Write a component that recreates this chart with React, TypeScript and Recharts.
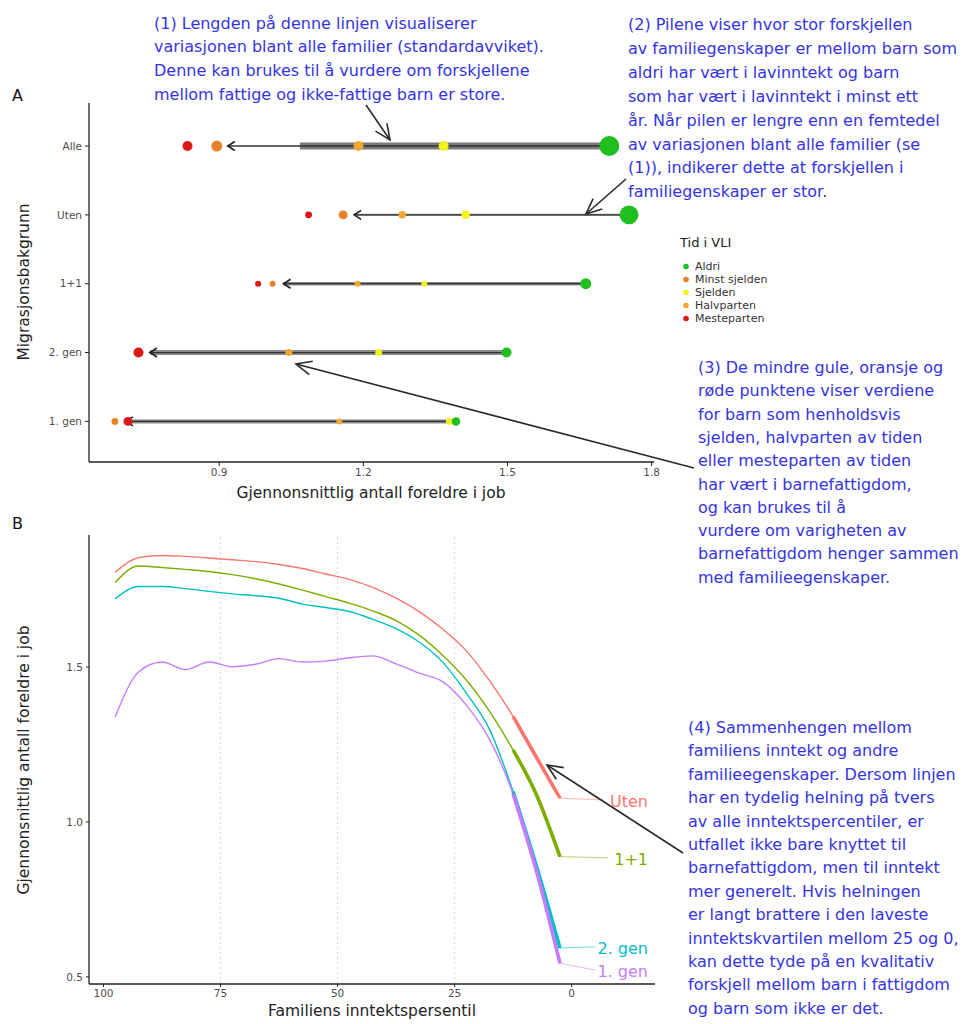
import React from "react";
import {
  ComposedChart, Scatter, Line, XAxis, YAxis, ReferenceLine, Legend,
} from "recharts";

// ---------- Panel A: foreldre i jobb etter migrasjonsbakgrunn og tid i VLI ----------
const grupper = ["Alle", "Uten", "1+1", "2. gen", "1. gen"];
const radNr = [5, 4, 3, 2, 1];
const tidIVli = ["Aldri", "Minst sjelden", "Sjelden", "Halvparten", "Mesteparten"];

const aldri = [1.712, 1.753, 1.663, 1.498, 1.393];
const minstSjelden = [0.895, 1.158, 1.011, 0.733, 0.683];
const sjelden = [1.367, 1.413, 1.327, 1.232, 1.379];
const halvparten = [1.19, 1.281, 1.188, 1.045, 1.15];
const mesteparten = [0.834, 1.086, 0.981, 0.732, 0.71];

// relativ gruppestørrelse (styrer punktarealet)
const nAldri = [100, 90, 30, 25, 18];
const nMinstSjelden = [30, 20, 9, 16, 12];
const nSjelden = [25, 18, 9, 12, 12];
const nHalvparten = [25, 14, 9, 12, 9];
const nMesteparten = [25, 12, 9, 25, 20];

// standardavvik blant alle familier
const standardavvik = 0.644;

// ---------- Panel B: foreldre i jobb etter inntektspersentil ----------
const persentil = [97.5, 92.5, 87.5, 82.5, 77.5, 72.5, 67.5, 62.5, 57.5, 52.5, 47.5, 42.5, 37.5, 32.5, 27.5, 22.5, 17.5, 12.5, 7.5, 2.5];
const uten = [1.806, 1.853, 1.86, 1.857, 1.852, 1.846, 1.84, 1.831, 1.818, 1.8, 1.783, 1.757, 1.722, 1.678, 1.622, 1.552, 1.455, 1.34, 1.208, 1.077];
const enPlussEn = [1.773, 1.826, 1.821, 1.815, 1.808, 1.798, 1.785, 1.768, 1.748, 1.727, 1.706, 1.681, 1.65, 1.602, 1.537, 1.458, 1.356, 1.232, 1.087, 0.888];
const andreGen = [1.72, 1.76, 1.76, 1.753, 1.744, 1.736, 1.73, 1.722, 1.703, 1.692, 1.679, 1.654, 1.624, 1.58, 1.515, 1.416, 1.297, 1.098, 0.856, 0.593];
const forsteGen = [1.339, 1.484, 1.516, 1.492, 1.516, 1.501, 1.509, 1.527, 1.516, 1.519, 1.53, 1.536, 1.51, 1.48, 1.452, 1.377, 1.265, 1.09, 0.84, 0.544];
const linjeNavn = ["Uten", "1+1", "2. gen", "1. gen"];
const etikettVerdi = [1.068, 0.881, 0.594, 0.519];
const nedreKvartil = 12.5; // tykk linje fra denne persentilen og ned
const rutenett = [75, 50, 25];

// ---------- stil ----------
const FONT = '"DejaVu Sans", Verdana, sans-serif';
const tidFarger = ["#1fbf1f", "#e8822a", "#f2f21c", "#f3a733", "#dc1717"];
const tegneRekkefolge = [2, 3, 0, 1, 4]; // rødt og grønt øverst
const linjeFarger = ["#F8766D", "#7CAE00", "#00BFC4", "#C77CFF"];
const pilBredde = [0, 2, 3.5, 5, 4];
const lederSlutt = [-6.9, -7.8, -5, -5];
const etikettX = -16.3;
const BLA = "#3434e2";
const AKSE = "#222";
const tick = { fontSize: 10.5, fill: "#4d4d4d", fontFamily: FONT };

const tidVerdier = [aldri, minstSjelden, sjelden, halvparten, mesteparten];
const tidN = [nAldri, nMinstSjelden, nSjelden, nHalvparten, nMesteparten];

const tekst1 = [
  "(1) Lengden på denne linjen visualiserer",
  "variasjonen blant alle familier (standardavviket).",
  "Denne kan brukes til å vurdere om forskjellene",
  "mellom fattige og ikke-fattige barn er store.",
];
const tekst2 = [
  "(2) Pilene viser hvor stor forskjellen",
  "av familiegenskaper er mellom barn som",
  "aldri har vært i lavinntekt og barn",
  "som har vært i lavinntekt i minst ett",
  "år. Når pilen er lengre enn en femtedel",
  "av variasjonen blant alle familier (se",
  "(1)), indikerer dette at forskjellen i",
  "familiegenskaper er stor.",
];
const tekst3 = [
  "(3) De mindre gule, oransje og",
  "røde punktene viser verdiene",
  "for barn som henholdsvis",
  "sjelden, halvparten av tiden",
  "eller mesteparten av tiden",
  "har vært i barnefattigdom,",
  "og kan brukes til å",
  "vurdere om varigheten av",
  "barnefattigdom henger sammen",
  "med familieegenskaper.",
];
const tekst4 = [
  "(4) Sammenhengen mellom",
  "familiens inntekt og andre",
  "familieegenskaper. Dersom linjen",
  "har en tydelig helning på tvers",
  "av alle inntektspercentiler, er",
  "utfallet ikke bare knyttet til",
  "barnefattigdom, men til inntekt",
  "mer generelt. Hvis helningen",
  "er langt brattere i den laveste",
  "inntektskvartilen mellom 25 og 0,",
  "kan dette tyde på en kvalitativ",
  "forskjell mellom barn i fattigdom",
  "og barn som ikke er det.",
];

function pilForm(bredde: number) {
  return (props: any) => {
    const { x1, y1, x2, y2 } = props;
    const dir = Math.sign(x2 - x1) || -1;
    const tip = x2 - dir * 11;
    return (
      <g>
        {bredde > 0 && (
          <line x1={x1 + 2} y1={y1} x2={tip} y2={y2} stroke="#8a8a8a" strokeWidth={bredde} />
        )}
        <line x1={x1} y1={y1} x2={tip} y2={y2} stroke="#333" strokeWidth={1.3} />
        <polyline
          points={`${tip - dir * 7},${y2 - 4.5} ${tip},${y2} ${tip - dir * 7},${y2 + 4.5}`}
          fill="none" stroke="#222" strokeWidth={1.7}
        />
      </g>
    );
  };
}

function sdForm(props: any) {
  const { x1, y1, x2, y2 } = props;
  return <line x1={x1} y1={y1} x2={x2} y2={y2} stroke="#7a7a7a" strokeWidth={7} />;
}

function Pil({ fra, til }: { fra: number[]; til: number[] }) {
  const [x1, y1] = fra;
  const [x2, y2] = til;
  const a = Math.atan2(y2 - y1, x2 - x1);
  const L = 17;
  const s = 0.42;
  const p1 = [x2 - L * Math.cos(a - s), y2 - L * Math.sin(a - s)];
  const p2 = [x2 - L * Math.cos(a + s), y2 - L * Math.sin(a + s)];
  return (
    <g stroke="#2a2a2a" strokeWidth={1.6} fill="none">
      <line x1={x1} y1={y1} x2={x2} y2={y2} />
      <polyline points={`${p1[0]},${p1[1]} ${x2},${y2} ${p2[0]},${p2[1]}`} />
    </g>
  );
}

function Avsnitt({ linjer, x, y, dy }: { linjer: string[]; x: number; y: number; dy: number }) {
  return (
    <text fontFamily={FONT} fontSize={16} fill={BLA}>
      {linjer.map((l, i) => (
        <tspan key={i} x={x} y={y + i * dy}>{l}</tspan>
      ))}
    </text>
  );
}

function TidLegend({ payload }: any) {
  const items = [...(payload || [])].sort(
    (a: any, b: any) => tidIVli.indexOf(a.value) - tidIVli.indexOf(b.value)
  );
  return (
    <div style={{ fontFamily: FONT, color: "#222" }}>
      <div style={{ fontSize: 13, marginBottom: 10 }}>Tid i VLI</div>
      {items.map((it: any) => (
        <div key={it.value} style={{ display: "flex", alignItems: "center", height: 13, fontSize: 11, color: "#333" }}>
          <svg width={12} height={13}>
            <circle cx={6} cy={6.5} r={2.8} fill={it.color} />
          </svg>
          <span style={{ marginLeft: 3 }}>{it.value}</span>
        </div>
      ))}
    </div>
  );
}

export default function App() {
  const linjer = [uten, enPlussEn, andreGen, forsteGen].map((verdier) =>
    persentil.map((p, i) => ({ p, v: verdier[i] }))
  );

  return (
    <div style={{ position: "absolute", left: 0, top: 0, width: 971, height: 1024, background: "#fff", overflow: "hidden" }}>
      {/* Panel A */}
      <div style={{ position: "absolute", left: 0, top: 0 }}>
        <ComposedChart width={760} height={510} margin={{ top: 103, right: 106, bottom: 18, left: 29 }}>
          <XAxis
            type="number" dataKey="x" domain={[0.629, 1.805]} ticks={[0.9, 1.2, 1.5, 1.8]}
            allowDataOverflow height={30} tick={tick} tickSize={4} tickMargin={3}
            tickFormatter={(v: number) => v.toFixed(1)}
            axisLine={{ stroke: AKSE, strokeWidth: 1.3 }} tickLine={{ stroke: AKSE }}
          />
          <YAxis
            type="number" dataKey="y" domain={[0.41, 5.625]} ticks={radNr}
            allowDataOverflow width={60} tick={tick} tickSize={4} tickMargin={3}
            tickFormatter={(v: number) => grupper[radNr.indexOf(v)] ?? ""}
            axisLine={{ stroke: AKSE, strokeWidth: 1.3 }} tickLine={{ stroke: AKSE }}
          />
          <ReferenceLine
            segment={[{ x: aldri[0] - standardavvik, y: radNr[0] }, { x: aldri[0], y: radNr[0] }]}
            shape={sdForm}
          />
          {grupper.map((g, i) => (
            <ReferenceLine
              key={g}
              segment={[{ x: aldri[i], y: radNr[i] }, { x: minstSjelden[i], y: radNr[i] }]}
              shape={pilForm(pilBredde[i])}
            />
          ))}
          {tegneRekkefolge.map((k) => (
            <Scatter
              key={tidIVli[k]}
              name={tidIVli[k]}
              data={grupper.map((g, i) => ({ x: tidVerdier[k][i], y: radNr[i], n: tidN[k][i], gruppe: g }))}
              fill={tidFarger[k]}
              isAnimationActive={false}
              shape={(p: any) => <circle cx={p.cx} cy={p.cy} r={Math.sqrt(p.payload.n)} fill={tidFarger[k]} />}
            />
          ))}
          <Legend
            layout="vertical" align="center" verticalAlign="middle"
            wrapperStyle={{ left: 680, top: 235, width: 110 }}
            content={<TidLegend />}
          />
        </ComposedChart>
      </div>

      {/* Panel B */}
      <div style={{ position: "absolute", left: 0, top: 510 }}>
        <ComposedChart width={680} height={514} margin={{ top: 25, right: 25, bottom: 18, left: 29 }}>
          <XAxis
            type="number" dataKey="p" domain={[-17.8, 103.1]} reversed ticks={[100, 75, 50, 25, 0]}
            allowDataOverflow height={22} tick={tick} tickSize={3} tickMargin={3}
            axisLine={{ stroke: AKSE, strokeWidth: 1.3 }} tickLine={{ stroke: AKSE }}
          />
          <YAxis
            type="number" dataKey="v" domain={[0.477, 1.926]} ticks={[0.5, 1, 1.5]}
            allowDataOverflow width={60} tick={tick} tickSize={3} tickMargin={3}
            tickFormatter={(v: number) => v.toFixed(1)}
            axisLine={{ stroke: AKSE, strokeWidth: 1.3 }} tickLine={{ stroke: AKSE }}
          />
          {rutenett.map((p) => (
            <ReferenceLine key={p} x={p} stroke="#d6d6d6" strokeDasharray="2 3" />
          ))}
          {linjer.map((d, i) => (
            <Line
              key={linjeNavn[i]} data={d} dataKey="v" type="monotone" stroke={linjeFarger[i]}
              strokeWidth={1.4} dot={false} isAnimationActive={false}
            />
          ))}
          {linjer.map((d, i) => (
            <Line
              key={linjeNavn[i] + "-tykk"} data={d.filter((r) => r.p <= nedreKvartil)} dataKey="v"
              type="monotone" stroke={linjeFarger[i]} strokeWidth={3.6} dot={false} isAnimationActive={false}
            />
          ))}
          {linjer.map((d, i) => (
            <Line
              key={linjeNavn[i] + "-leder"}
              data={[d[d.length - 1], { p: lederSlutt[i], v: etikettVerdi[i] + 0.003 }]}
              dataKey="v" type="linear" stroke={linjeFarger[i]} strokeOpacity={0.55}
              strokeWidth={1} dot={false} isAnimationActive={false}
            />
          ))}
          <Scatter
            data={linjeNavn.map((navn, i) => ({ p: etikettX, v: etikettVerdi[i], navn, farge: linjeFarger[i] }))}
            isAnimationActive={false}
            shape={(p: any) => (
              <text x={p.cx} y={p.cy} dy="0.36em" textAnchor="end" fontFamily={FONT} fontSize={16} fill={p.payload.farge}>
                {p.payload.navn}
              </text>
            )}
          />
        </ComposedChart>
      </div>

      {/* titler, merknader og piler */}
      <svg width={971} height={1024} style={{ position: "absolute", left: 0, top: 0, pointerEvents: "none" }}>
        <text x={12} y={101} fontFamily={FONT} fontSize={16} fill="#111">A</text>
        <text x={12} y={529} fontFamily={FONT} fontSize={16} fill="#111">B</text>
        <text x={371} y={498} textAnchor="middle" fontFamily={FONT} fontSize={15.5} fill="#222">
          Gjennonsnittlig antall foreldre i job
        </text>
        <text transform="translate(29,282) rotate(-90)" textAnchor="middle" fontFamily={FONT} fontSize={15.5} fill="#222">
          Migrasjonsbakgrunn
        </text>
        <text x={372} y={1016} textAnchor="middle" fontFamily={FONT} fontSize={15.5} fill="#222">
          Familiens inntektspersentil
        </text>
        <text transform="translate(29,760) rotate(-90)" textAnchor="middle" fontFamily={FONT} fontSize={15.5} fill="#222">
          Gjennonsnittlig antall foreldre i job
        </text>

        <Avsnitt linjer={tekst1} x={154} y={28.5} dy={23.7} />
        <Avsnitt linjer={tekst2} x={628} y={30} dy={23.9} />
        <Avsnitt linjer={tekst3} x={698} y={373} dy={23.3} />
        <Avsnitt linjer={tekst4} x={688} y={733} dy={23.4} />

        <Pil fra={[366, 105]} til={[390, 140]} />
        <Pil fra={[626, 179]} til={[586, 214]} />
        <Pil fra={[694, 468]} til={[296, 364]} />
        <Pil fra={[683, 853]} til={[547, 765]} />
      </svg>
    </div>
  );
}
